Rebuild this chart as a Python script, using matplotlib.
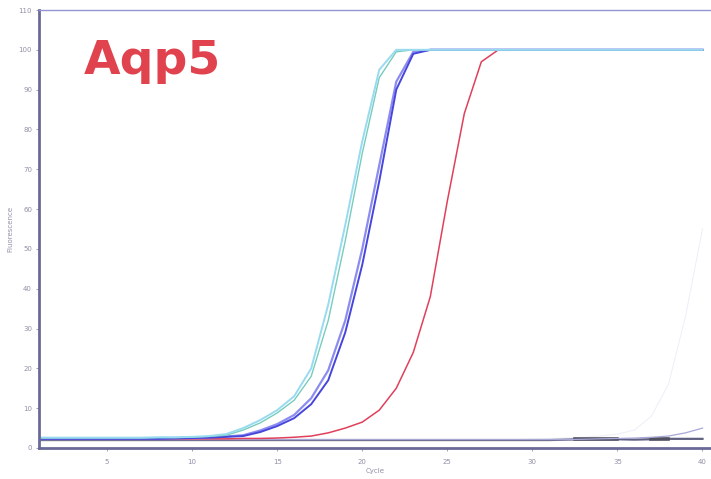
import matplotlib
matplotlib.use("Agg")
import matplotlib.pyplot as plt

cycles = list(range(1, 41))

cyan = [2.6, 2.6, 2.6, 2.6, 2.6, 2.6, 2.6, 2.7, 2.7, 2.8, 3.0,
        3.5, 5.0, 7.0, 9.5, 13.0, 20.0, 36.0, 56.0, 77.0, 95.0, 100.0,
        100, 100, 100, 100, 100, 100, 100, 100, 100, 100, 100, 100, 100, 100, 100, 100, 100, 100]

teal = [2.5, 2.5, 2.5, 2.5, 2.5, 2.5, 2.5, 2.6, 2.6, 2.7, 2.9,
        3.2, 4.5, 6.3, 8.8, 12.0, 18.0, 32.0, 52.0, 74.0, 93.0, 99.5,
        100, 100, 100, 100, 100, 100, 100, 100, 100, 100, 100, 100, 100, 100, 100, 100, 100, 100]

blue_a = [2.3, 2.3, 2.3, 2.3, 2.3, 2.3, 2.3, 2.3, 2.4, 2.5, 2.6, 2.8,
          3.0, 4.0, 5.5, 7.5, 11.0, 17.0, 29.0, 46.0, 67.0, 90.0, 99.0,
          100, 100, 100, 100, 100, 100, 100, 100, 100, 100, 100, 100, 100, 100, 100, 100, 100]

blue_b = [2.4, 2.4, 2.4, 2.4, 2.4, 2.4, 2.4, 2.4, 2.5, 2.6, 2.7, 2.9,
          3.2, 4.4, 6.0, 8.3, 12.5, 19.5, 32.0, 50.0, 71.0, 92.0, 99.5,
          100, 100, 100, 100, 100, 100, 100, 100, 100, 100, 100, 100, 100, 100, 100, 100, 100]

red = [2.3, 2.3, 2.3, 2.3, 2.3, 2.3, 2.3, 2.3, 2.3, 2.3, 2.3, 2.3, 2.4, 2.4,
       2.5, 2.7, 3.0, 3.8, 5.0, 6.5, 9.5, 15.0, 24.0, 38.0, 62.0, 84.0, 97.0,
       100, 100, 100, 100, 100, 100, 100, 100, 100, 100, 100, 100, 100]

baseline = [2.0, 2.0, 2.0, 2.0, 2.0, 2.0, 2.0, 2.0, 2.0, 2.0, 2.0, 2.0, 2.0, 2.0,
            2.0, 2.0, 2.0, 2.0, 2.0, 2.0, 2.0, 2.0, 2.0, 2.0, 2.0, 2.0, 2.0, 2.0,
            2.0, 2.0, 2.0, 2.1, 2.2, 2.2, 2.2, 2.1, 2.2, 2.3, 2.3, 2.3]

late_low = [2.1, 2.1, 2.1, 2.1, 2.1, 2.1, 2.1, 2.1, 2.1, 2.1, 2.1, 2.1, 2.1, 2.1,
            2.1, 2.1, 2.1, 2.1, 2.1, 2.1, 2.1, 2.1, 2.1, 2.1, 2.1, 2.1, 2.1, 2.1,
            2.1, 2.1, 2.1, 2.1, 2.2, 2.3, 2.4, 2.5, 2.7, 3.0, 3.8, 5.0]

late_faint = [2.2, 2.2, 2.2, 2.2, 2.2, 2.2, 2.2, 2.2, 2.2, 2.2, 2.2, 2.2, 2.2, 2.2,
              2.2, 2.2, 2.2, 2.2, 2.2, 2.2, 2.2, 2.2, 2.2, 2.2, 2.2, 2.2, 2.2, 2.2,
              2.2, 2.3, 2.4, 2.5, 2.7, 3.0, 3.5, 4.5, 8.0, 16.0, 33.0, 55.0]

dark_seg1_x = [32.5, 33, 34, 35]
dark_seg1_y = [2.2, 2.2, 2.2, 2.2]
dark_seg2_x = [37, 38]
dark_seg2_y = [2.3, 2.3]

y_ticks = [0, 10, 20, 30, 40, 50, 60, 70, 80, 90, 100, 110]
x_ticks = [5, 10, 15, 20, 25, 30, 35, 40]

fig = plt.figure(figsize=(7.11, 4.79), dpi=100)
ax = fig.add_axes([39 / 711, 1 - 448 / 479, 1 - 39 / 711, (448 - 10) / 479])

ax.plot(cycles, late_faint, color="#dcdcf0", lw=0.7, alpha=0.5)
ax.plot(cycles, baseline, color="#606080", lw=1.6)
ax.plot(dark_seg1_x, dark_seg1_y, color="#505060", lw=2.6)
ax.plot(dark_seg2_x, dark_seg2_y, color="#505060", lw=2.6)
ax.plot(cycles, late_low, color="#a8a8d8", lw=0.9)
ax.plot(cycles, red, color="#e0405a", lw=1.1)
ax.plot(cycles, blue_b, color="#8c8cf0", lw=1.6)
ax.plot(cycles, blue_a, color="#4646dc", lw=1.4)
ax.plot(cycles, teal, color="#78ccbc", lw=1.0)
ax.plot(cycles, cyan, color="#98daf0", lw=1.4)

ax.set_xlim(1, 40.5)
ax.set_ylim(0, 110)
ax.set_xticks(x_ticks)
ax.set_yticks(y_ticks)
ax.tick_params(axis="both", labelsize=5, colors="#9090a8", length=2, width=0.6)
ax.tick_params(axis="x", pad=6)
ax.tick_params(axis="y", pad=3)

for s in ["left", "bottom"]:
    ax.spines[s].set_color("#6a6a98")
    ax.spines[s].set_linewidth(2.0)
ax.spines["top"].set_color("#9494d4")
ax.spines["top"].set_linewidth(1.0)
ax.spines["right"].set_visible(False)

ax.set_xlabel("Cycle", fontsize=5, color="#9090a8", labelpad=2)
ax.set_ylabel("Fluorescence", fontsize=5, color="#9090a8", labelpad=4)

fig.text(84 / 711, 1 - 74 / 479, "Aqp5", fontsize=34, fontweight="bold",
         color="#e0424e", family="DejaVu Sans", ha="left", va="baseline")

fig.savefig("out.png", dpi=100)
